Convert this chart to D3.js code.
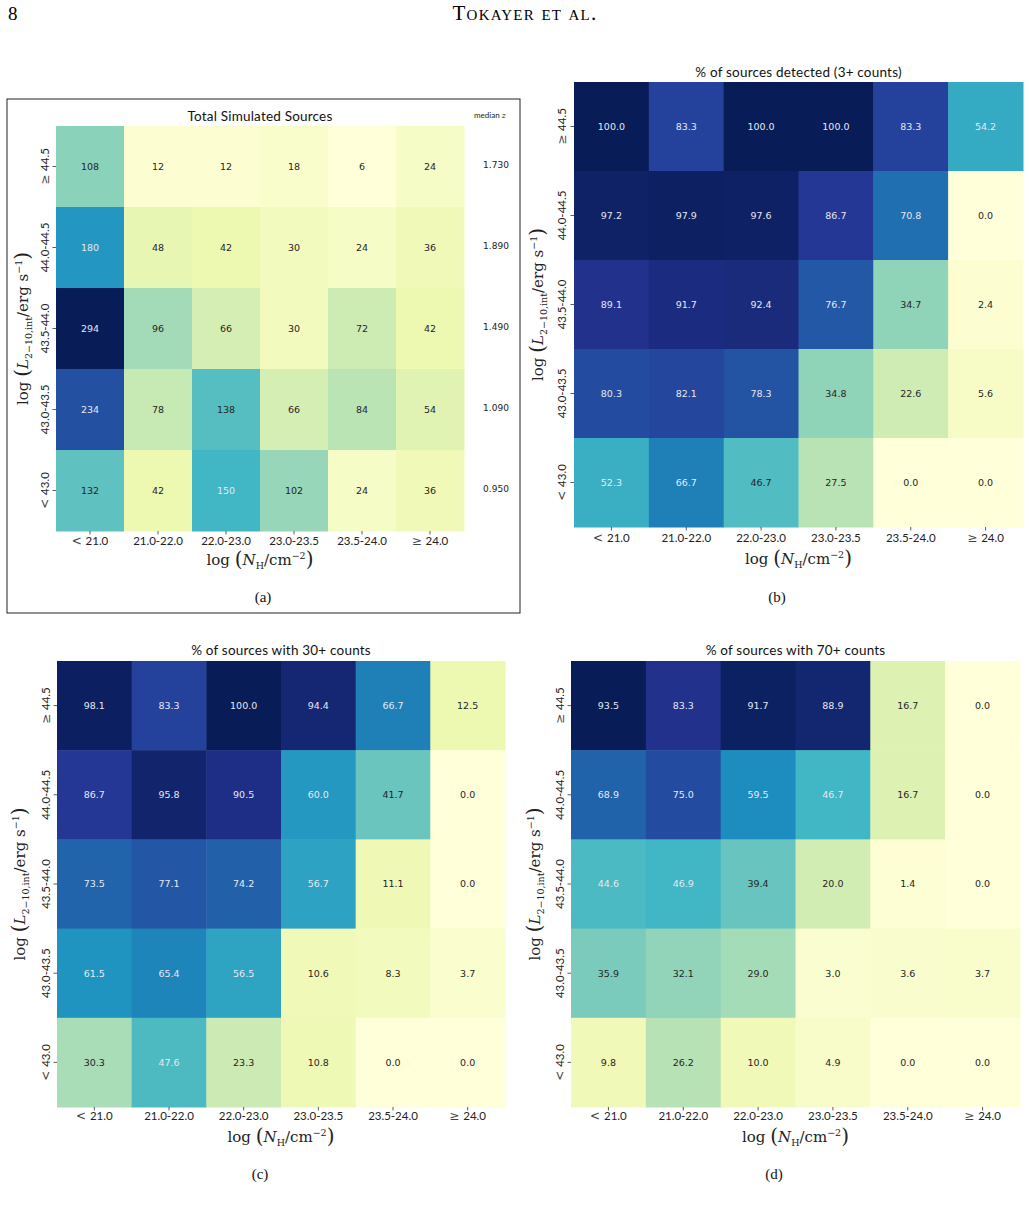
<!DOCTYPE html>
<html><head><meta charset="utf-8">
<script src="https://cdn.jsdelivr.net/npm/d3@7"></script>
<style>
body{margin:0;background:#fff;}
svg{display:block;}
</style></head>
<body>
<svg id="chart" width="1029" height="1210"></svg>
<script>
// ---------- DATA ----------
const nhBins = ["< 21.0","21.0-22.0","22.0-23.0","23.0-23.5","23.5-24.0","\u2265 24.0"];
const lumBins = ["\u2265 44.5","44.0-44.5","43.5-44.0","43.0-43.5","< 43.0"];
const medianZ = ["1.730","1.890","1.490","1.090","0.950"];

const totalSources = [
  [108,12,12,18,6,24],
  [180,48,42,30,24,36],
  [294,96,66,30,72,42],
  [234,78,138,66,84,54],
  [132,42,150,102,24,36]
];
const pctDetected = [
  [100.0,83.3,100.0,100.0,83.3,54.2],
  [97.2,97.9,97.6,86.7,70.8,0.0],
  [89.1,91.7,92.4,76.7,34.7,2.4],
  [80.3,82.1,78.3,34.8,22.6,5.6],
  [52.3,66.7,46.7,27.5,0.0,0.0]
];
const pct30 = [
  [98.1,83.3,100.0,94.4,66.7,12.5],
  [86.7,95.8,90.5,60.0,41.7,0.0],
  [73.5,77.1,74.2,56.7,11.1,0.0],
  [61.5,65.4,56.5,10.6,8.3,3.7],
  [30.3,47.6,23.3,10.8,0.0,0.0]
];
const pct70 = [
  [93.5,83.3,91.7,88.9,16.7,0.0],
  [68.9,75.0,59.5,46.7,16.7,0.0],
  [44.6,46.9,39.4,20.0,1.4,0.0],
  [35.9,32.1,29.0,3.0,3.6,3.7],
  [9.8,26.2,10.0,4.9,0.0,0.0]
];
const titles = ["Total Simulated Sources","% of sources detected (3+ counts)","% of sources with 30+ counts","% of sources with 70+ counts"];
const subLabels = ["(a)","(b)","(c)","(d)"];

// ---------- STYLE ----------
const ylgnbu = ['#ffffd9','#edf8b1','#c7e9b4','#7fcdbb','#41b6c4','#1d91c0','#225ea8','#253494','#081d58'];
const SANS = "Lato, 'DejaVu Sans', sans-serif";
const CELLF = "'DejaVu Sans', sans-serif";
const SERIF = "'DejaVu Serif', 'Liberation Serif', serif";
const SERIF2 = "'Liberation Serif', 'DejaVu Serif', serif";

const svg = d3.select("#chart");

// header
svg.append("text").attr("x",8).attr("y",20).attr("font-family",SERIF2).attr("font-size",19).text("8");
svg.append("text").attr("x",525).attr("y",20).attr("text-anchor","middle").attr("font-family",SERIF2)
  .attr("font-size",21).style("font-variant","small-caps").attr("letter-spacing",1.2).text("Tokayer et al.");

// panel (a) frame
svg.append("rect").attr("x",7).attr("y",99).attr("width",513).attr("height",514)
  .attr("fill","none").attr("stroke","#222").attr("stroke-width",1);

const panels = [
  {data: totalSources, fmt: d=>String(d), x0:56,x1:464,y0:126,y1:531, titleY:121, yTickX:45, yTitleX:28, xTickY:545, xTitleY:565, subX:263, subY:602},
  {data: pctDetected, fmt: d=>d.toFixed(1), x0:574,x1:1023,y0:82,y1:527, titleY:77, yTickX:562, yTitleX:543, xTickY:542, xTitleY:564, subX:777, subY:602},
  {data: pct30, fmt: d=>d.toFixed(1), x0:57,x1:505,y0:661,y1:1107, titleY:655, yTickX:46, yTitleX:25, xTickY:1120, xTitleY:1142, subX:260, subY:1179},
  {data: pct70, fmt: d=>d.toFixed(1), x0:571,x1:1020,y0:661,y1:1107, titleY:655, yTickX:560, yTitleX:540, xTickY:1120, xTitleY:1142, subX:774, subY:1179}
];

function relLum(c){
  const rgb = d3.rgb(c);
  const f = v => { v/=255; return v<=0.03928 ? v/12.92 : Math.pow((v+0.055)/1.055,2.4); };
  return 0.2126*f(rgb.r)+0.7152*f(rgb.g)+0.0722*f(rgb.b);
}

function tickLabel(sel){
  sel.each(function(d){
    const t = d3.select(this);
    const m = d.match(/^([<\u2265]) (.*)$/);
    if(m){
      t.append("tspan").attr("font-family",SERIF).attr("font-size",12).attr("fill","#444").text(m[1]+" ");
      t.append("tspan").text(m[2]);
    } else t.text(d);
  });
}

function mathYLabel(g, x, y){
  const t = g.append("text").attr("transform",`translate(${x},${y}) rotate(-90)`)
    .attr("text-anchor","middle").attr("font-family",SERIF).attr("font-size",15).attr("fill","#222");
  t.append("tspan").text("log ");
  t.append("tspan").attr("font-size",20).attr("dy",1).text("(");
  t.append("tspan").attr("font-style","italic").attr("dy",-1).text("L");
  t.append("tspan").attr("font-size",9.5).attr("dy",4).text("2\u221210,int");
  t.append("tspan").attr("dy",-4).text("/erg s");
  t.append("tspan").attr("font-size",9.5).attr("dy",-6).text("\u22121");
  t.append("tspan").attr("font-size",20).attr("dy",7).text(")");
}
function mathXLabel(g, x, y){
  const t = g.append("text").attr("x",x).attr("y",y)
    .attr("text-anchor","middle").attr("font-family",SERIF).attr("font-size",15).attr("fill","#222");
  t.append("tspan").text("log ");
  t.append("tspan").attr("font-size",20).attr("dy",1).text("(");
  t.append("tspan").attr("font-style","italic").attr("dy",-1).text("N");
  t.append("tspan").attr("font-size",9.5).attr("dy",4).text("H");
  t.append("tspan").attr("dy",-4).text("/cm");
  t.append("tspan").attr("font-size",9.5).attr("dy",-6).text("\u22122");
  t.append("tspan").attr("font-size",20).attr("dy",7).text(")");
}

panels.forEach((p,pi)=>{
  const g = svg.append("g");
  const x = d3.scaleBand().domain(nhBins).range([p.x0,p.x1]);
  const y = d3.scaleBand().domain(lumBins).range([p.y0,p.y1]);
  const flat = p.data.flat();
  const vmin = d3.min(flat), vmax = d3.max(flat);
  const color = d3.scaleLinear()
    .domain(ylgnbu.map((_,i)=>vmin + i*(vmax-vmin)/(ylgnbu.length-1)))
    .range(ylgnbu).interpolate(d3.interpolateRgb).clamp(true);

  const cells = [];
  p.data.forEach((row,ri)=>row.forEach((v,ci)=>cells.push({r:lumBins[ri], c:nhBins[ci], v})));

  g.selectAll("rect.cell").data(cells).join("rect").attr("class","cell")
    .attr("x",d=>x(d.c)).attr("y",d=>y(d.r))
    .attr("width",x.bandwidth()+0.5).attr("height",y.bandwidth()+0.5)
    .attr("fill",d=>color(d.v));

  g.selectAll("text.annot").data(cells).join("text").attr("class","annot")
    .attr("x",d=>x(d.c)+x.bandwidth()/2).attr("y",d=>y(d.r)+y.bandwidth()/2)
    .attr("dy","0.35em").attr("text-anchor","middle")
    .attr("font-family",CELLF).attr("font-size",9.5)
    .attr("fill",d=> relLum(color(d.v)) > 0.408 ? "#262626" : "#e6e8f0")
    .text(d=>p.fmt(d.v));

  // axes
  const ax = g.append("g").attr("transform",`translate(0,${p.y1})`)
    .call(d3.axisBottom(x).tickSize(3.5).tickPadding(3));
  ax.select(".domain").remove();
  ax.selectAll("line").attr("stroke","#333").attr("stroke-width",0.8);
  ax.selectAll("text").remove();
  g.selectAll("text.xt").data(nhBins).join("text").attr("class","xt")
    .attr("x",d=>x(d)+x.bandwidth()/2).attr("y",p.xTickY)
    .attr("text-anchor","middle").attr("font-family",SANS).attr("font-size",11.5).attr("fill","#222")
    .call(tickLabel);

  const ay = g.append("g").attr("transform",`translate(${p.x0},0)`)
    .call(d3.axisLeft(y).tickSize(3.5));
  ay.select(".domain").remove();
  ay.selectAll("line").attr("stroke","#333").attr("stroke-width",0.8);
  ay.selectAll("text").remove();
  g.selectAll("text.yt").data(lumBins).join("text").attr("class","yt")
    .attr("transform",d=>`translate(${p.yTickX+4},${y(d)+y.bandwidth()/2}) rotate(-90)`)
    .attr("text-anchor","middle").attr("font-family",SANS).attr("font-size",11.5).attr("fill","#222")
    .call(tickLabel);

  // title
  g.append("text").attr("x",(p.x0+p.x1)/2).attr("y",p.titleY).attr("text-anchor","middle")
    .attr("font-family",SANS).attr("font-size",13.5).attr("letter-spacing",0.2).attr("fill","#111").text(titles[pi]);

  mathYLabel(g, p.yTitleX, (p.y0+p.y1)/2);
  mathXLabel(g, (p.x0+p.x1)/2, p.xTitleY);

  g.append("text").attr("x",p.subX).attr("y",p.subY).attr("text-anchor","middle")
    .attr("font-family",SERIF2).attr("font-size",15).attr("fill","#111").text(subLabels[pi]);

  if(pi===0){
    const mz = g.append("text").attr("x",490).attr("y",118).attr("text-anchor","middle")
      .attr("font-family",SANS).attr("font-size",8).attr("fill","#222");
    mz.append("tspan").text("median ");
    mz.append("tspan").attr("font-style","italic").attr("font-family",SERIF).text("z");
    g.selectAll("text.mz").data(medianZ).join("text").attr("class","mz")
      .attr("x",496).attr("y",(d,i)=>y(lumBins[i])+y.bandwidth()/2 + 1)
      .attr("text-anchor","middle").attr("font-family",CELLF).attr("font-size",9).attr("fill","#222")
      .text(d=>d);
  }
});
</script>
</body></html>
